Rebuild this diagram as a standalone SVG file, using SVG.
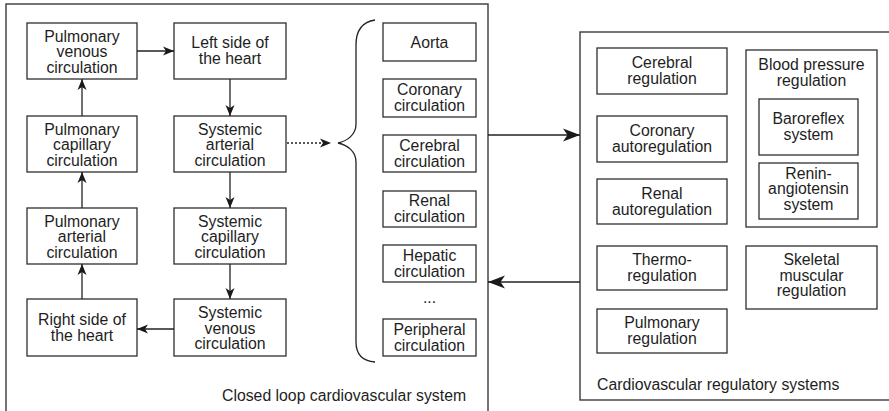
<svg xmlns="http://www.w3.org/2000/svg" width="889" height="411" viewBox="0 0 889 411">
  <style>
    .frame { fill: none; stroke: #3a3a3a; stroke-width: 1.4; }
    .box { fill: #ffffff; stroke: #2e2e2e; stroke-width: 1.3; }
    .lbl { font-family: "Liberation Sans", Arial, sans-serif; font-size: 15.8px; fill: #1e1e1e; text-anchor: middle; }
    .cap { font-family: "Liberation Sans", Arial, sans-serif; font-size: 15.8px; fill: #1e1e1e; }
    .link { fill: none; stroke: #222222; stroke-width: 1.3; }
    .dotted { fill: none; stroke: #222222; stroke-width: 1.3; stroke-dasharray: 2 2; }
    .brace { fill: none; stroke: #222222; stroke-width: 1.3; }
  </style>
  <defs>
    <marker id="head" markerUnits="userSpaceOnUse" markerWidth="12" markerHeight="10" refX="11" refY="5" orient="auto">
      <path d="M0,0.5 L11,5 L0,9.5 L3,5 z" fill="#1a1a1a"/>
    </marker>
    <marker id="headBig" markerUnits="userSpaceOnUse" markerWidth="18" markerHeight="14" refX="17" refY="7" orient="auto">
      <path d="M0,0.5 L17,7 L0,13.5 L4.5,7 z" fill="#1a1a1a"/>
    </marker>
  </defs>

  <!-- system frames -->
  <rect id="closed-loop-frame" class="frame" x="6" y="4" width="482" height="420"/>
  <rect id="regulatory-frame" class="frame" x="580" y="32" width="320" height="368"/>
  <text class="cap" x="222" y="401">Closed loop cardiovascular system</text>
  <text class="cap" x="597" y="390">Cardiovascular regulatory systems</text>

  <!-- closed loop nodes -->
  <g id="pulmonary-venous">
    <rect class="box" x="27" y="23" width="110" height="56"/>
    <text class="lbl" x="82" y="41.5">Pulmonary</text>
    <text class="lbl" x="82" y="57">venous</text>
    <text class="lbl" x="82" y="72.5">circulation</text>
  </g>
  <g id="left-heart">
    <rect class="box" x="174" y="23" width="112" height="56"/>
    <text class="lbl" x="230" y="48">Left side of</text>
    <text class="lbl" x="230" y="64">the heart</text>
  </g>
  <g id="pulmonary-capillary">
    <rect class="box" x="27" y="116" width="110" height="56"/>
    <text class="lbl" x="82" y="134.5">Pulmonary</text>
    <text class="lbl" x="82" y="150">capillary</text>
    <text class="lbl" x="82" y="165.5">circulation</text>
  </g>
  <g id="systemic-arterial">
    <rect class="box" x="174" y="116" width="112" height="56"/>
    <text class="lbl" x="230" y="134.5">Systemic</text>
    <text class="lbl" x="230" y="150">arterial</text>
    <text class="lbl" x="230" y="165.5">circulation</text>
  </g>
  <g id="pulmonary-arterial">
    <rect class="box" x="27" y="208" width="110" height="56"/>
    <text class="lbl" x="82" y="226.5">Pulmonary</text>
    <text class="lbl" x="82" y="242">arterial</text>
    <text class="lbl" x="82" y="257.5">circulation</text>
  </g>
  <g id="systemic-capillary">
    <rect class="box" x="174" y="208" width="112" height="56"/>
    <text class="lbl" x="230" y="226.5">Systemic</text>
    <text class="lbl" x="230" y="242">capillary</text>
    <text class="lbl" x="230" y="257.5">circulation</text>
  </g>
  <g id="right-heart">
    <rect class="box" x="27" y="299" width="110" height="57"/>
    <text class="lbl" x="82" y="324.5">Right side of</text>
    <text class="lbl" x="82" y="340.5">the heart</text>
  </g>
  <g id="systemic-venous">
    <rect class="box" x="174" y="299" width="112" height="57"/>
    <text class="lbl" x="230" y="318">Systemic</text>
    <text class="lbl" x="230" y="333.5">venous</text>
    <text class="lbl" x="230" y="349">circulation</text>
  </g>

  <!-- systemic branches -->
  <g id="aorta">
    <rect class="box" x="383" y="23" width="93" height="38"/>
    <text class="lbl" x="429.5" y="47.5">Aorta</text>
  </g>
  <g id="coronary-circulation">
    <rect class="box" x="383" y="79" width="93" height="38"/>
    <text class="lbl" x="429.5" y="95">Coronary</text>
    <text class="lbl" x="429.5" y="111">circulation</text>
  </g>
  <g id="cerebral-circulation">
    <rect class="box" x="383" y="135" width="93" height="37"/>
    <text class="lbl" x="429.5" y="150.5">Cerebral</text>
    <text class="lbl" x="429.5" y="166.5">circulation</text>
  </g>
  <g id="renal-circulation">
    <rect class="box" x="383" y="191" width="93" height="36"/>
    <text class="lbl" x="429.5" y="206">Renal</text>
    <text class="lbl" x="429.5" y="222">circulation</text>
  </g>
  <g id="hepatic-circulation">
    <rect class="box" x="383" y="245" width="93" height="37"/>
    <text class="lbl" x="429.5" y="260.5">Hepatic</text>
    <text class="lbl" x="429.5" y="276.5">circulation</text>
  </g>
  <text class="lbl" x="429.5" y="303">...</text>
  <g id="peripheral-circulation">
    <rect class="box" x="383" y="319" width="93" height="37"/>
    <text class="lbl" x="429.5" y="334.5">Peripheral</text>
    <text class="lbl" x="429.5" y="350.5">circulation</text>
  </g>

  <!-- regulatory nodes -->
  <g id="cerebral-regulation">
    <rect class="box" x="597" y="48" width="130" height="46"/>
    <text class="lbl" x="662" y="68">Cerebral</text>
    <text class="lbl" x="662" y="84">regulation</text>
  </g>
  <g id="coronary-autoregulation">
    <rect class="box" x="597" y="116" width="130" height="46"/>
    <text class="lbl" x="662" y="136">Coronary</text>
    <text class="lbl" x="662" y="152">autoregulation</text>
  </g>
  <g id="renal-autoregulation">
    <rect class="box" x="597" y="179" width="130" height="45"/>
    <text class="lbl" x="662" y="198.5">Renal</text>
    <text class="lbl" x="662" y="214.5">autoregulation</text>
  </g>
  <g id="thermoregulation">
    <rect class="box" x="597" y="246" width="130" height="44"/>
    <text class="lbl" x="662" y="265">Thermo-</text>
    <text class="lbl" x="662" y="281">regulation</text>
  </g>
  <g id="pulmonary-regulation">
    <rect class="box" x="597" y="309" width="130" height="44"/>
    <text class="lbl" x="662" y="328">Pulmonary</text>
    <text class="lbl" x="662" y="344">regulation</text>
  </g>
  <g id="blood-pressure-regulation">
    <rect class="box" x="746" y="50" width="131" height="177"/>
    <text class="lbl" x="811.5" y="69.5">Blood pressure</text>
    <text class="lbl" x="811.5" y="86">regulation</text>
  </g>
  <g id="baroreflex-system">
    <rect class="box" x="759" y="99" width="99" height="56"/>
    <text class="lbl" x="808.5" y="124">Baroreflex</text>
    <text class="lbl" x="808.5" y="140">system</text>
  </g>
  <g id="renin-angiotensin-system">
    <rect class="box" x="759" y="163" width="99" height="56"/>
    <text class="lbl" x="808.5" y="178.5">Renin-</text>
    <text class="lbl" x="808.5" y="194">angiotensin</text>
    <text class="lbl" x="808.5" y="209.5">system</text>
  </g>
  <g id="skeletal-muscular-regulation">
    <rect class="box" x="746" y="246" width="131" height="63"/>
    <text class="lbl" x="811.5" y="265">Skeletal</text>
    <text class="lbl" x="811.5" y="280.5">muscular</text>
    <text class="lbl" x="811.5" y="296">regulation</text>
  </g>

  <!-- connectors -->
  <g id="connectors">
    <line class="link" x1="137" y1="51" x2="174" y2="51" marker-end="url(#head)"/>
    <line class="link" x1="230" y1="79" x2="230" y2="116" marker-end="url(#head)"/>
    <line class="link" x1="230" y1="172" x2="230" y2="208" marker-end="url(#head)"/>
    <line class="link" x1="230" y1="264" x2="230" y2="299" marker-end="url(#head)"/>
    <line class="link" x1="174" y1="329" x2="137" y2="329" marker-end="url(#head)"/>
    <line class="link" x1="82" y1="299" x2="82" y2="264" marker-end="url(#head)"/>
    <line class="link" x1="82" y1="208" x2="82" y2="172" marker-end="url(#head)"/>
    <line class="link" x1="82" y1="116" x2="82" y2="79" marker-end="url(#head)"/>
    <line class="dotted" x1="287" y1="143" x2="331" y2="143" marker-end="url(#head)"/>
    <path class="brace" d="M375,20 C362,22 356,30 356,45 L356,124 C356,135 347,141 338,143 C347,145 356,151 356,162 L356,342 C356,354 362,361 375,362"/>
    <line class="link" x1="488" y1="135" x2="580" y2="135" marker-end="url(#headBig)"/>
    <line class="link" x1="580" y1="282" x2="488" y2="282" marker-end="url(#headBig)"/>
  </g>
</svg>
